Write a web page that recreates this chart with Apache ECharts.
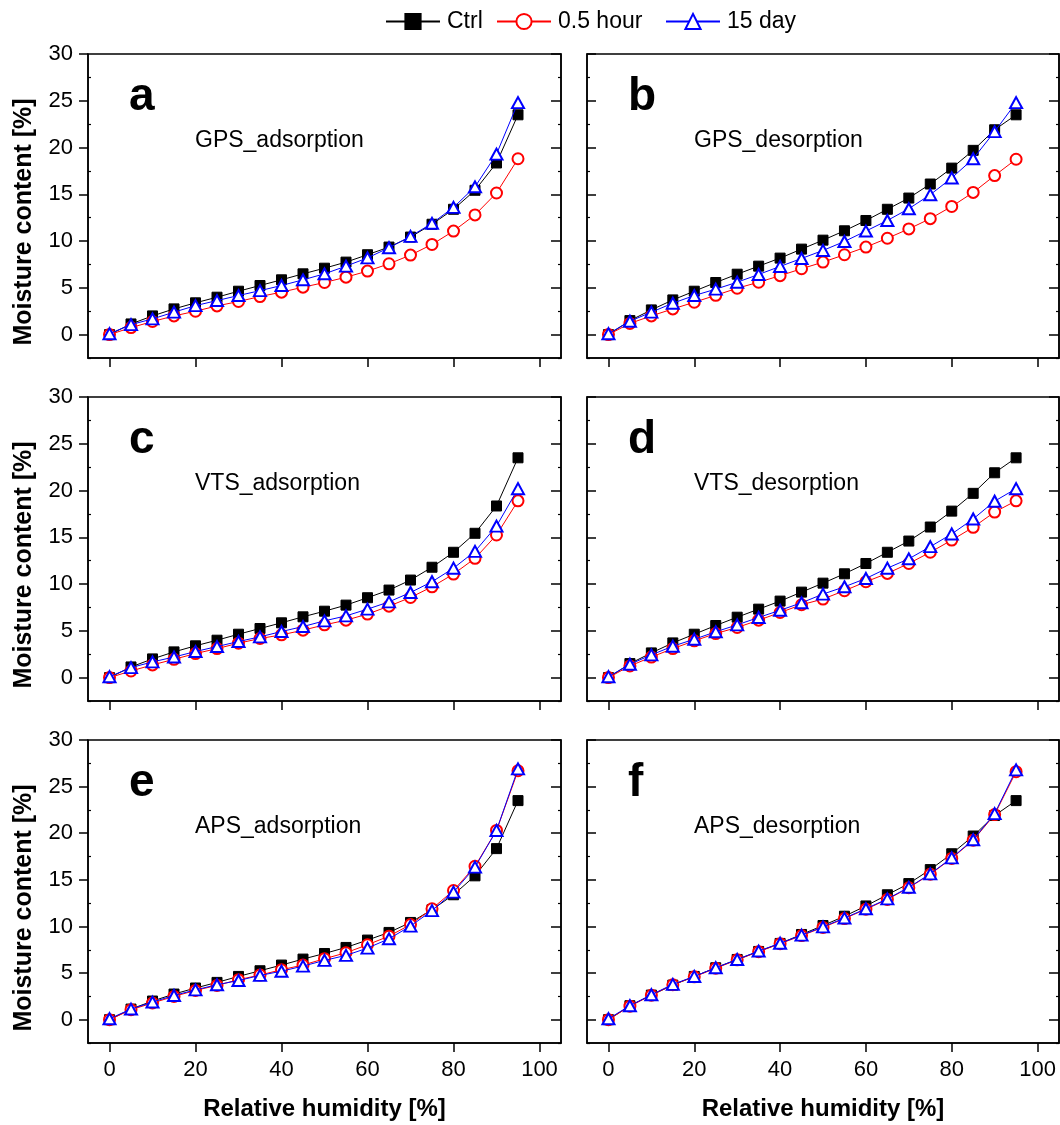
<!DOCTYPE html>
<html>
<head>
<meta charset="utf-8">
<script src="https://cdn.jsdelivr.net/npm/echarts@6/dist/echarts.min.js"></script>
<style>
html,body{margin:0;padding:0;background:#fff;}
#chart{width:1060px;height:1125px;}
</style>
</head>
<body>
<div id="chart"></div>
<script>
// ---------- data ----------
const RH = [0,5,10,15,20,25,30,35,40,45,50,55,60,65,70,75,80,85,90,95];
const xTicks = [0,20,40,60,80,100];
const yTicks = [0,5,10,15,20,25,30];
const yMinor = [-2.5,2.5,7.5,12.5,17.5,22.5,27.5];
const seriesNames = ['Ctrl','0.5 hour','15 day'];
const panelLetters = ['a','b','c','d','e','f'];
const panelNames = ['GPS_adsorption','GPS_desorption','VTS_adsorption','VTS_desorption','APS_adsorption','APS_desorption'];
const yTitle = 'Moisture content [%]';
const xTitle = 'Relative humidity [%]';

const ctrlAds = [0,1.14,2.0,2.75,3.4,4.0,4.64,5.25,5.86,6.5,7.1,7.75,8.54,9.36,10.43,11.8,13.4,15.43,18.35,23.5];
const ctrlDes = [0,1.5,2.64,3.71,4.64,5.57,6.46,7.32,8.18,9.14,10.1,11.1,12.2,13.4,14.6,16.1,17.8,19.7,21.9,23.5];

const gpsAds05 = [0,0.75,1.4,2.0,2.5,3.07,3.54,4.07,4.54,5.07,5.57,6.14,6.79,7.57,8.5,9.64,11.07,12.8,15.14,18.8];
const gpsAds15 = [0.1,1.07,1.68,2.4,3.1,3.64,4.18,4.7,5.25,5.86,6.5,7.32,8.2,9.29,10.5,11.9,13.6,15.8,19.3,24.8];
const gpsDes05 = [0,1.2,2.0,2.75,3.46,4.2,4.96,5.6,6.3,7.04,7.75,8.54,9.36,10.3,11.3,12.4,13.7,15.2,17.0,18.75];
const gpsDes15 = [0.1,1.43,2.4,3.36,4.18,4.86,5.6,6.43,7.29,8.14,9.0,9.96,11.07,12.2,13.46,14.96,16.75,18.8,21.7,24.8];
const vtsAds05 = [0,0.71,1.36,1.96,2.57,3.1,3.68,4.18,4.57,5.07,5.64,6.14,6.79,7.64,8.57,9.71,11.07,12.75,15.25,18.9];
const vtsAds15 = [0.1,1.07,1.68,2.2,2.79,3.32,3.86,4.36,4.93,5.46,6.07,6.6,7.32,8.1,9.1,10.25,11.7,13.5,16.2,20.2];
const vtsDes05 = [0,1.25,2.2,3.1,3.93,4.71,5.36,6.14,6.96,7.79,8.4,9.29,10.25,11.14,12.2,13.4,14.7,16.07,17.7,18.9];
const vtsDes15 = [0.1,1.43,2.43,3.36,4.1,4.9,5.64,6.43,7.2,8.0,8.93,9.71,10.6,11.7,12.7,14.0,15.36,16.96,18.86,20.2];
const apsAds05 = [0,1.07,1.79,2.5,3.14,3.68,4.29,4.79,5.36,5.86,6.54,7.18,8.04,8.96,10.2,11.9,13.86,16.46,20.3,26.7];
const apsAds15 = [0.1,1.14,1.89,2.6,3.2,3.75,4.2,4.75,5.2,5.75,6.36,6.9,7.68,8.68,10.04,11.7,13.68,16.36,20.3,26.9];
const apsDes05 = [0,1.45,2.62,3.75,4.6,5.52,6.42,7.3,8.15,9.02,9.9,10.85,11.85,12.9,14.15,15.6,17.3,19.25,22.0,26.6];
const apsDes15 = [0.1,1.5,2.68,3.79,4.64,5.57,6.46,7.36,8.2,9.07,9.96,10.9,11.9,12.96,14.2,15.64,17.36,19.3,22.1,26.8];

const panelData = [
  [ctrlAds, gpsAds05, gpsAds15],
  [ctrlDes, gpsDes05, gpsDes15],
  [ctrlAds, vtsAds05, vtsAds15],
  [ctrlDes, vtsDes05, vtsDes15],
  [ctrlAds, apsAds05, apsAds15],
  [ctrlDes, apsDes05, apsDes15]
];

// ---------- layout ----------
const FONT = '"Liberation Sans", Arial, Helvetica, sans-serif';
const rowTops = [54, 397, 740];
const rowH = [304, 304, 303];
const colLefts = [88, 587];
const colW = [473, 472];
const colors = ['#000000', '#ff0000', '#0000ff'];
const symbols = ['rect', 'emptyCircle', 'emptyTriangle'];
const symSizes = [10, 11, [12, 11]];

const grids = [], xAxes = [], yAxes = [], series = [], graphics = [];

for (let i = 0; i < 6; i++) {
  const r = Math.floor(i / 2), c = i % 2;
  const left = colLefts[c], top = rowTops[r], w = colW[c], h = rowH[r];
  grids.push({left: left, top: top, width: w, height: h, show: true,
    borderColor: '#000', borderWidth: 1.5, backgroundColor: 'transparent', containLabel: false});
  const isBottom = r === 2;
  xAxes.push({type: 'value', gridIndex: i, min: -5, max: 105, position: 'bottom',
    axisLine: {show: true, onZero: false, lineStyle: {color: '#000', width: 1.5}},
    axisTick: {show: true, inside: false, length: 9, customValues: xTicks, lineStyle: {color: '#000', width: 1.5}},
    axisLabel: {show: isBottom, customValues: xTicks, margin: 16, color: '#000', fontSize: 22, fontFamily: FONT},
    splitLine: {show: false}});
  const leftOut = c === 0;
  // left major
  yAxes.push({type: 'value', gridIndex: i, min: -2.5, max: 30, position: 'left',
    axisLine: {show: true, onZero: false, lineStyle: {color: '#000', width: 1.5}},
    axisTick: {show: true, inside: !leftOut, length: 9, customValues: yTicks, lineStyle: {color: '#000', width: 1.5}},
    axisLabel: {show: leftOut, customValues: yTicks, margin: 15, color: '#000', fontSize: 22, fontFamily: FONT},
    splitLine: {show: false}});
  // right major
  yAxes.push({type: 'value', gridIndex: i, min: -2.5, max: 30, position: 'right',
    axisLine: {show: true, onZero: false, lineStyle: {color: '#000', width: 1.5}},
    axisTick: {show: true, inside: true, length: 10, customValues: yTicks, lineStyle: {color: '#000', width: 1.5}},
    axisLabel: {show: false}, splitLine: {show: false}});
  // minor ticks left & right
  ['left', 'right'].forEach(function (pos) {
    yAxes.push({type: 'value', gridIndex: i, min: -2.5, max: 30, position: pos,
      axisLine: {show: false, onZero: false},
      axisTick: {show: true, inside: true, length: 3, customValues: yMinor, lineStyle: {color: '#000', width: 1.2}},
      axisLabel: {show: false}, splitLine: {show: false}});
  });
  for (let s = 0; s < 3; s++) {
    const vals = panelData[i][s];
    series.push({type: 'line', name: seriesNames[s], xAxisIndex: i, yAxisIndex: 4 * i,
      data: RH.map(function (x, k) { return [x, vals[k]]; }),
      symbol: symbols[s], symbolSize: symSizes[s], showSymbol: true,
      itemStyle: {color: colors[s], borderColor: colors[s], borderWidth: 1},
      lineStyle: {color: colors[s], width: 1},
      emphasis: {disabled: true}, z: 2 + s});
  }
  graphics.push({type: 'text', x: left + 41, y: top + 43,
    style: {text: panelLetters[i], fontSize: 46, fontWeight: 'bold', fontFamily: FONT, fill: '#000',
      align: 'left', verticalAlign: 'middle'}});
  graphics.push({type: 'text', x: left + 107, y: top + 87,
    style: {text: panelNames[i], fontSize: 23, fontFamily: FONT, fill: '#000',
      align: 'left', verticalAlign: 'middle'}});
  if (c === 0) {
    graphics.push({type: 'text', x: 24, y: top + 168, rotation: Math.PI / 2,
      style: {text: yTitle, fontSize: 25, fontWeight: 'bold', fontFamily: FONT, fill: '#000',
        align: 'center', verticalAlign: 'middle'}});
  }
  if (isBottom) {
    graphics.push({type: 'text', x: left + w / 2, y: 1109,
      style: {text: xTitle, fontSize: 24, fontWeight: 'bold', fontFamily: FONT, fill: '#000',
        align: 'center', verticalAlign: 'middle'}});
  }
}

const legendLefts = [385, 496, 665];
const legends = seriesNames.map(function (n, k) {
  return {data: [n], left: legendLefts[k], top: 10, padding: 0, itemWidth: 54, itemHeight: 19,
    itemGap: 0, selectedMode: false,
    textStyle: {fontSize: 23, fontFamily: FONT, color: '#000', padding: [0, 0, 0, 2]}};
});

const chart = echarts.init(document.getElementById('chart'), null, {renderer: 'canvas'});
chart.setOption({
  backgroundColor: '#fff',
  animation: false,
  legend: legends,
  grid: grids,
  xAxis: xAxes,
  yAxis: yAxes,
  series: series,
  graphic: graphics
});
</script>
</body>
</html>
